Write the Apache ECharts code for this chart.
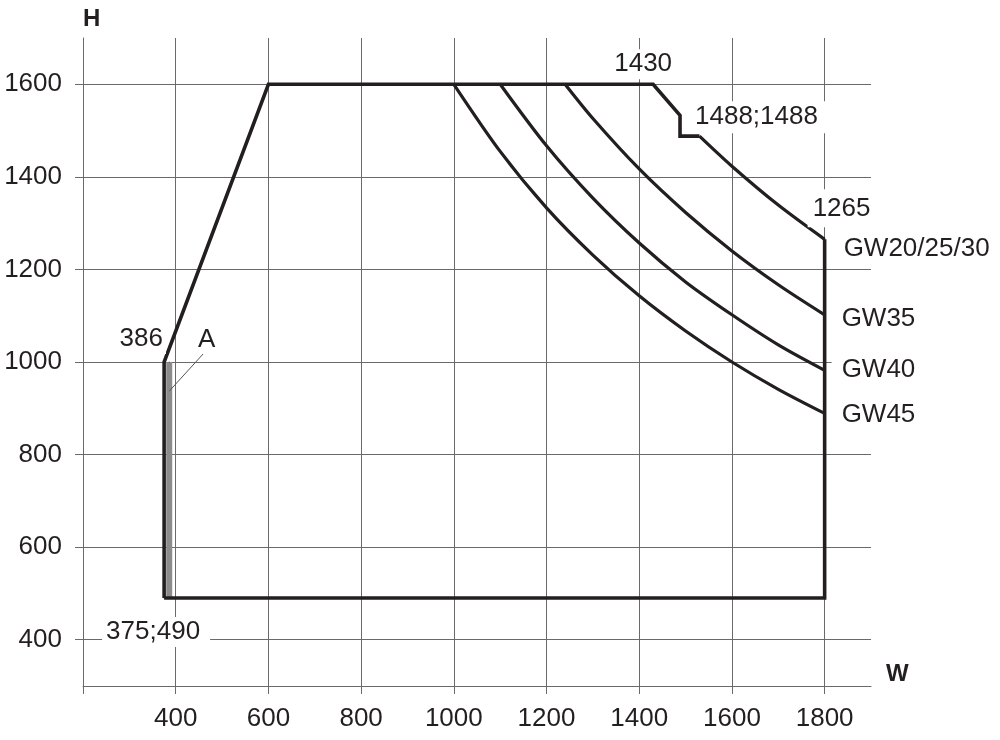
<!DOCTYPE html>
<html><head><meta charset="utf-8">
<script src="https://cdn.jsdelivr.net/npm/echarts@6/dist/echarts.min.js"></script>
<style>html,body{margin:0;padding:0;background:#fff}#c{width:1000px;height:740px}</style>
</head><body><div id="c"></div>
<script>
// ---- data (W, H) ----
const xTickLabels = [400, 600, 800, 1000, 1200, 1400, 1600, 1800];
const yTickLabels = [400, 600, 800, 1000, 1200, 1400, 1600];
const envelopeLeftTop = [[375, 490], [375, 1000], [600, 1600], [1430, 1600], [1488, 1533], [1488, 1488], [1530, 1488]];
const envelopeCurve = [[1530, 1488], [1600, 1423], [1700, 1339], [1800, 1265]];
const envelopeRightBottom = [[1800, 1265], [1800, 490], [375, 490]];
const lineA = [[386, 490], [386, 1000]];
const leaderA = [[386, 937], [467, 1026]];
const gw35 = [[1240, 1600], [1300, 1526], [1400, 1417], [1500, 1323], [1600, 1240], [1700, 1167], [1800, 1102]];
const gw40 = [[1100, 1600], [1200, 1467], [1300, 1354], [1400, 1257], [1500, 1173], [1600, 1102], [1700, 1037], [1800, 982]];
const gw45 = [[1000, 1600], [1100, 1455], [1200, 1333], [1300, 1231], [1400, 1143], [1500, 1067], [1600, 1000], [1700, 941], [1800, 889]];
const annotationTexts = ['1430', '1488;1488', '1265', 'GW20/25/30', 'GW35', 'GW40', 'GW45', '375;490', '386', 'A'];
const annotationAnchors = [[1430, 1600], [1488, 1488], [1800, 1265], [1800, 1265], [1800, 1102], [1800, 982], [1800, 889], [375, 490], [386, 1000], [467, 1026]];

// ---- styles ----
const FONT = "'Liberation Sans', Arial, Helvetica, sans-serif";
const INK = '#231f20';
const GRIDC = '#6a6a6a';
const labelStyles = {
  '1430':       {align: 'center', offset: [-10, -20], padding: [2, 4, 2, 4]},
  '1488;1488':  {align: 'left',   offset: [11, -19],  padding: [3, 31, 3, 4]},
  '1265':       {align: 'left',   offset: [-17, -31], padding: [6, 4, 6, 5]},
  'GW20/25/30': {align: 'left',   offset: [7, 9],     padding: [2, 6, 2, 12]},
  'GW35':       {align: 'left',   offset: [7, 4.5],   padding: [1, 6, 1, 10]},
  'GW40':       {align: 'left',   offset: [7, -1],    padding: [2, 6, 2, 10]},
  'GW45':       {align: 'left',   offset: [7, 1],     padding: [2, 6, 2, 10]},
  '375;490':    {align: 'left',   offset: [-62, 34],  padding: [2, 10, 2, 4]},
  '386':        {align: 'center', offset: [-28, -23], padding: [2, 3, 2, 3]},
  'A':          {align: 'center', offset: [0, -10],   padding: [1, 2, 1, 2]}
};

const annotationData = annotationTexts.map((t, i) => ({
  value: annotationAnchors[i],
  label: {
    show: true, formatter: t, position: 'inside',
    align: labelStyles[t].align, verticalAlign: 'middle',
    offset: labelStyles[t].offset, padding: labelStyles[t].padding,
    backgroundColor: '#fff', color: INK, opacity: 1, fontSize: 26, fontFamily: FONT
  }
}));

function blackLine(data, width, smooth) {
  return {
    type: 'line', data: data, symbol: 'none', smooth: smooth || false,
    lineStyle: {color: INK, width: width, cap: 'butt', join: 'miter'},
    z: 3, silent: true
  };
}

const chart = echarts.init(document.getElementById('c'), null, {renderer: 'canvas'});
chart.setOption({
  animation: false,
  backgroundColor: '#fff',
  grid: {left: 83, top: 38, width: 788, height: 648, containLabel: false, outerBoundsMode: 'none'},
  xAxis: {
    type: 'value', min: 200, max: 1900, interval: 100,
    name: 'W', nameLocation: 'end', nameGap: 15,
    nameTextStyle: {fontSize: 24, fontWeight: 'bold', color: INK, fontFamily: FONT, align: 'left', verticalAlign: 'bottom', padding: [0, 0, 0, 0]},
    axisLine: {show: true, onZero: false, lineStyle: {color: GRIDC, width: 1}},
    axisTick: {show: true, length: 8, inside: false, customValues: [200].concat(xTickLabels), lineStyle: {color: GRIDC, width: 1}},
    axisLabel: {show: true, customValues: xTickLabels, formatter: v => String(v), margin: 20, fontSize: 26, color: INK, fontFamily: FONT},
    splitLine: {show: true, lineStyle: {color: GRIDC, width: 1}}
  },
  yAxis: {
    type: 'value', min: 300, max: 1700, interval: 100,
    name: 'H', nameLocation: 'end', nameGap: 19,
    nameTextStyle: {fontSize: 24, fontWeight: 'bold', color: INK, fontFamily: FONT, align: 'left', verticalAlign: 'middle'},
    axisLine: {show: true, onZero: false, lineStyle: {color: GRIDC, width: 1}},
    axisTick: {show: true, length: 8, inside: false, customValues: yTickLabels, lineStyle: {color: GRIDC, width: 1}},
    axisLabel: {show: true, customValues: yTickLabels, formatter: v => String(v), margin: 21, fontSize: 26, color: INK, fontFamily: FONT},
    splitLine: {show: true, lineStyle: {color: GRIDC, width: 1}}
  },
  series: [
    {type: 'line', data: lineA, symbol: 'none', lineStyle: {color: '#8c8c8c', width: 6, cap: 'butt'}, z: 2, silent: true},
    {type: 'line', data: leaderA, symbol: 'none', lineStyle: {color: '#555', width: 1}, z: 2, silent: true},
    blackLine(envelopeLeftTop, 3.6),
    blackLine(envelopeCurve, 3.2, 0.3),
    blackLine(envelopeRightBottom, 3.6),
    blackLine(gw35, 3.2, 0.3),
    blackLine(gw40, 3.2, 0.3),
    blackLine(gw45, 3.2, 0.3),
    {type: 'scatter', data: annotationData, symbolSize: 1, itemStyle: {color: INK}, z: 10, silent: true}
  ]
});
</script></body></html>
